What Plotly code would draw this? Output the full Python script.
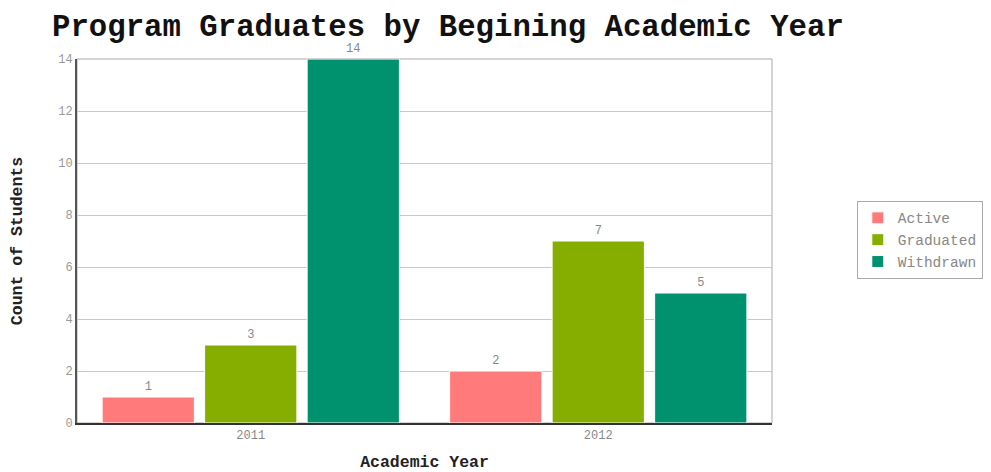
import plotly.graph_objects as go

years = ["2011", "2012"]
statuses = ["Active", "Graduated", "Withdrawn"]
counts = {
    "Active":    [1, 2],
    "Graduated": [3, 7],
    "Withdrawn": [14, 5],
}
colors = {
    "Active":    "#FF7B7B",
    "Graduated": "#86AE00",
    "Withdrawn": "#00916F",
}

MONO = "Liberation Mono, Courier New, monospace"

# page body adds an 8px margin, so the figure is sized to fit the window
W, H = 983, 464

fig = go.Figure()
for s in statuses:
    fig.add_trace(go.Bar(
        x=years,
        y=counts[s],
        name=s,
        marker=dict(color=colors[s], line=dict(color="white", width=1)),
        text=counts[s],
        textposition="outside",
        cliponaxis=False,
        textfont=dict(family=MONO, size=12, color="#888888"),
    ))

fig.update_layout(
    width=W,
    height=H,
    paper_bgcolor="white",
    plot_bgcolor="white",
    barmode="group",
    bargap=0.115,
    bargroupgap=0.1,
    margin=dict(l=69, r=219, t=51, b=49, autoexpand=False),
    title=dict(
        text="<b>Program Graduates by Begining Academic Year</b>",
        font=dict(family=MONO, size=30.7, color="#111111"),
        x=44 / W, xanchor="left",
        y=1 - 17 / H, yanchor="middle",
    ),
    font=dict(family=MONO, color="#888888"),
    legend=dict(
        x=1.122, xanchor="left",
        y=0.503, yanchor="middle",
        bordercolor="#aaaaaa", borderwidth=1,
        font=dict(family=MONO, size=14.5, color="#888888"),
        tracegroupgap=0,
    ),
    xaxis=dict(
        title=dict(text="<b>Academic Year</b>", font=dict(family=MONO, size=16.5, color="#222222"), standoff=13),
        tickfont=dict(family=MONO, size=12, color="#888888"),
        showline=True, linecolor="#333333", linewidth=2,
        ticks="", showgrid=False, automargin=False,
    ),
    yaxis=dict(
        title=dict(text="<b>Count of Students</b>", font=dict(family=MONO, size=16.5, color="#222222"), standoff=31),
        tickfont=dict(family=MONO, size=12, color="#999999"),
        range=[0, 14], dtick=2,
        showline=True, linecolor="#555555", linewidth=2,
        gridcolor="#c8c8c8", zeroline=False,
        ticks="", automargin=False,
    ),
)

fig.add_shape(type="rect", xref="paper", yref="paper", x0=0, y0=0, x1=1, y1=1,
              line=dict(color="#aaaaaa", width=1), layer="below")

fig.write_html("out.html")
